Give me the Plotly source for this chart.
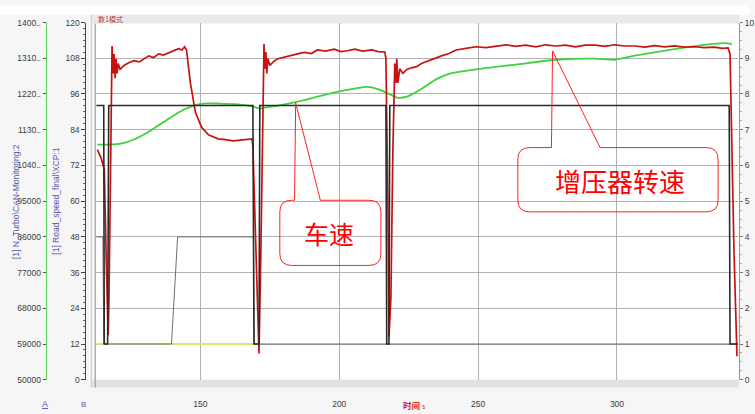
import plotly.graph_objects as go

W, H = 755, 414

# ---- data -------------------------------------------------------------
# turbocharger speed (axis A, rpm)
turbo_t = [112.9, 114.3, 115.0, 115.4, 116.1, 116.8, 117.1, 117.9, 118.2, 118.6, 118.9, 119.3,
           119.6, 120.0, 120.4, 121.1, 122.5, 124.0, 126.1, 128.0, 129.8, 131.4, 133.2, 135.0,
           136.7, 138.6, 140.2, 142.1, 143.4, 144.3, 145.0, 146.4, 148.2, 150.4, 152.9, 156.4,
           159.0, 161.8, 164.5, 167.1, 168.6, 168.9, 170.0, 171.1, 171.8, 172.5, 172.9, 173.2,
           173.6, 173.9, 174.3, 175.0, 176.5, 177.9, 180.0, 182.6, 185.0, 187.5, 190.0, 192.1,
           195.0, 198.2, 200.5, 202.9, 205.6, 208.4, 211.8, 214.0, 216.4, 216.8, 217.5, 217.9,
           218.6, 219.3, 220.0, 220.4, 220.7, 221.1, 221.8, 222.9, 224.3, 226.0, 227.9, 229.6,
           231.4, 234.0, 236.8, 239.5, 242.1, 245.6, 249.3, 252.8, 256.4, 260.0, 263.5, 267.1,
           270.8, 274.2, 277.9, 281.5, 285.0, 288.6, 292.1, 295.7, 299.2, 302.8, 306.4, 310.0,
           313.5, 317.1, 320.7, 324.3, 327.9, 331.4, 335.0, 338.0, 340.0, 340.7, 341.4, 342.1,
           343.2]
turbo_rpm = [108000, 105800, 103900, 103100, 80500, 61300, 70700, 114900, 134100, 127200, 132100, 126000,
             130900, 127200, 129700, 128200, 129200, 129800, 130400, 130100, 131000, 131600, 131200, 132100,
             131800, 132400, 132900, 133400, 133100, 133900, 133100, 124800, 117400, 113700, 111700, 110700,
             110500, 110200, 110400, 110500, 110700, 108800, 83000, 56600, 83000, 119800, 134600, 128400,
             132600, 127200, 130900, 129200, 130300, 130900, 131300, 131800, 132100, 132500, 132200, 133100,
             132800, 133300, 132700, 132900, 133300, 132800, 133100, 132700, 132600, 130900, 95200, 60800,
             70700, 107500, 129700, 124800, 130900, 124800, 128400, 127200, 128200, 128600, 128900, 129700,
             130200, 130800, 131600, 132200, 133100, 133500, 133900, 133700, 134100, 134400, 134000, 134300,
             133900, 134400, 134100, 134300, 133900, 134300, 134300, 134000, 134400, 134100, 134100, 133800,
             134200, 133900, 134100, 133800, 133900, 133700, 133800, 133500, 133600, 132100, 107500, 83000,
             55900]

# vehicle speed (axis B, km/h)
speed_t = [112.9, 117.1, 121.4, 126.1, 131.4, 136.8, 142.1, 147.5, 151.1, 156.4, 163.6, 168.9,
           171.4, 173.6, 177.9, 185.0, 192.1, 199.3, 206.4, 210.0, 213.6, 217.1, 220.7, 224.3,
           229.6, 235.0, 240.4, 249.3, 263.6, 277.9, 292.1, 299.3, 306.4, 320.7, 331.4, 338.6,
           341.4]
speed_kmh = [79.0, 79.0, 79.3, 80.7, 83.3, 86.6, 89.8, 92.1, 92.8, 92.8, 92.5, 91.8,
             91.1, 91.5, 92.1, 93.4, 95.1, 96.7, 98.0, 98.4, 97.7, 96.4, 94.8, 95.1,
             97.7, 101.0, 103.0, 104.3, 105.9, 107.5, 107.9, 107.5, 108.9, 111.1, 112.5, 113.1,
             112.8]

# right-hand axis signals (0..10)
step_t = [112.5, 115.2, 115.4, 116.6, 117.0, 168.9, 169.3, 171.1, 171.4, 216.8, 217.1, 217.9,
          218.2, 340.4, 340.7, 343.6]
step_v = [7.68, 7.68, 1, 1, 7.68, 7.68, 1, 1, 7.68, 7.68, 1, 1, 7.68, 7.68, 1, 1]

level_t = [112.5, 114.9, 115.2, 139.6, 141.8, 169.1, 169.4, 343.6]
level_v = [4, 4, 1, 1, 4, 4, 1, 1]

flag_t = [112.5, 169.6]
flag_v = [1, 1]

# axis ticks
time_ticks = [150, 200, 250, 300]
rpm_ticks = [50000, 59000, 68000, 77000, 86000, 95000, 104000, 113000, 122000, 131000, 140000]
rpm_labels = ["50000", "59000", "68000", "77000", "86000", "95000",
              "1040..", "1130..", "1220..", "1310..", "1400.."]

T_RANGE = [112.5, 343.6]


def px(x):
    return x / W


def py(y):
    return (H - y) / H


fig = go.Figure()

fig.add_trace(go.Scatter(x=flag_t, y=flag_v, yaxis="y4", mode="lines",
                         line=dict(color="#e2e27a", width=2.2)))
fig.add_trace(go.Scatter(x=level_t, y=level_v, yaxis="y4", mode="lines",
                         line=dict(color="#6e6e6e", width=1)))
fig.add_trace(go.Scatter(x=step_t, y=step_v, yaxis="y4", mode="lines",
                         line=dict(color="#2a2a2a", width=1.6)))
fig.add_trace(go.Scatter(x=speed_t, y=speed_kmh, yaxis="y2", mode="lines",
                         line=dict(color="#3fd23f", width=1.8, shape="spline", smoothing=0.6)))
fig.add_trace(go.Scatter(x=turbo_t, y=turbo_rpm, yaxis="y3", mode="lines",
                         line=dict(color="#c81212", width=1.7)))

tick_font = dict(family="Liberation Sans, Arial, sans-serif", size=8.5, color="#3c3c3c")

fig.update_layout(
    width=W, height=H,
    margin=dict(l=0, r=0, t=0, b=0),
    paper_bgcolor="#f6f6f7",
    plot_bgcolor="#ffffff",
    showlegend=False,
    xaxis=dict(domain=[px(97), px(744)], range=T_RANGE, anchor="y",
               tickvals=time_ticks, showticklabels=True, ticks="", ticklabelstandoff=18,
               tickfont=tick_font,
               showgrid=True, gridcolor="#b2b2b2", gridwidth=1.2,
               zeroline=False, showline=False),
    # red time ruler under the plot
    xaxis2=dict(overlaying="x", anchor="free", position=py(400), range=T_RANGE, side="bottom",
                tickvals=time_ticks, showticklabels=False, ticks="inside", ticklen=3,
                tickcolor="#8a8a8a",
                minor=dict(dtick=10, tick0=0, ticks="inside", ticklen=3, tickcolor="#9a9a9a"),
                showgrid=False, zeroline=False, showline=True, linecolor="#d23030", linewidth=1.2),
    yaxis=dict(domain=[py(384), py(18)], range=[0, 120], tick0=0, dtick=12, anchor="x",
               showticklabels=False, ticks="", showgrid=True, gridcolor="#b2b2b2",
               gridwidth=1.2, zeroline=False, showline=False),
    yaxis2=dict(overlaying="y", anchor="free", position=px(86), side="left",
                range=[0, 120], tick0=0, dtick=12, ticks="outside", ticklen=4,
                tickcolor="#444", minor=dict(dtick=2, ticks="outside", ticklen=2, tickcolor="#666"),
                showgrid=False, zeroline=False, showline=True, linecolor="#444", linewidth=1,
                tickfont=tick_font),
    yaxis3=dict(overlaying="y", anchor="free", position=px(46), side="left",
                range=[50000, 140000], tickvals=rpm_ticks, ticktext=rpm_labels,
                ticks="outside", ticklen=3, tickcolor="#555",
                showgrid=False, zeroline=False, showline=True, linecolor="#5fd85f", linewidth=1,
                tickfont=tick_font),
    yaxis4=dict(overlaying="y", anchor="free", position=px(745), side="right",
                range=[0, 10], tick0=0, dtick=1, ticks="outside", ticklen=3, tickcolor="#777",
                minor=dict(dtick=0.25, ticks="outside", ticklen=2, tickcolor="#aaa"),
                showgrid=False, zeroline=False, showline=True, linecolor="#9a9a9a", linewidth=1,
                tickfont=tick_font),
)

shapes = [
    # white strip along the top
    dict(type="rect", xref="paper", yref="paper", x0=0, x1=1, y0=py(10), y1=1,
         fillcolor="#ffffff", line=dict(width=0), layer="below"),
    # window header strip
    dict(type="rect", xref="paper", yref="paper", x0=px(93), x1=px(745), y0=py(19), y1=py(10),
         fillcolor="#e9e9ea", line=dict(width=0), layer="below"),
    # gray band under the plot
    dict(type="rect", xref="paper", yref="paper", x0=px(93), x1=px(745), y0=py(392), y1=py(384),
         fillcolor="#e2e2e3", line=dict(width=0), layer="below"),
    # window frame lines on the left
    dict(type="line", xref="paper", yref="paper", x0=px(92), x1=px(92), y0=py(392), y1=py(10),
         line=dict(color="#c8c8c8", width=1)),
    dict(type="line", xref="paper", yref="paper", x0=px(96), x1=px(96), y0=py(392), y1=py(19),
         line=dict(color="#a0a0a0", width=1.2)),
]


def callout(x0, x1, y0, y1, base_l, tip, base_r, rx, ry):
    return (f"M{x0 + rx},{y1} L{base_l},{y1} L{tip[0]},{tip[1]} L{base_r},{y1} "
            f"L{x1 - rx},{y1} Q{x1},{y1} {x1},{y1 - ry} L{x1},{y0 + ry} "
            f"Q{x1},{y0} {x1 - rx},{y0} L{x0 + rx},{y0} Q{x0},{y0} {x0},{y0 + ry} "
            f"L{x0},{y1 - ry} Q{x0},{y1} {x0 + rx},{y1} Z")


callout_line = dict(color="#ff2020", width=1)
shapes.append(dict(type="path", xref="x", yref="y", layer="above", line=callout_line,
                   path=callout(178.6, 215.0, 38.4, 60.3, 183.9, (184.3, 93.0), 193.2, 4.3, 3.9)))
shapes.append(dict(type="path", xref="x", yref="y", layer="above", line=callout_line,
                   path=callout(264.3, 336.4, 56.4, 78.0, 276.4, (276.8, 110.5), 293.9, 4.3, 3.9)))
fig.update_layout(shapes=shapes)

cjk = "Noto Sans CJK SC, sans-serif"
latin = "Liberation Sans, Arial, sans-serif"


def paper_text(x, y, text, font, angle=0):
    return dict(x=px(x), y=py(y), xref="paper", yref="paper", xanchor="center",
                yanchor="middle", text=text, showarrow=False, textangle=angle, font=font)


annotations = [
    dict(x=196.4, y=49.2, xref="x", yref="y", xanchor="center", yanchor="middle",
         text="车速", showarrow=False, font=dict(family=cjk, size=25, color="#ff0000")),
    dict(x=301.1, y=66.9, xref="x", yref="y", xanchor="center", yanchor="middle",
         text="增压器转速", showarrow=False, font=dict(family=cjk, size=26, color="#ff0000")),
    paper_text(111, 14.5, "数1模式", dict(family=cjk, size=7, color="#b83a3a")),
    paper_text(16, 201, "[1] N_Turbo\\CAN-Monitoring:2",
               dict(family=latin, size=8.5, color="#5757a6"), -90),
    paper_text(57, 201, "[1] Road_speed_final\\XCP:1",
               dict(family=latin, size=8.5, color="#5757a6"), -90),
    paper_text(45, 409, "<u>A</u>", dict(family=latin, size=9, color="#5757a6")),
    paper_text(84, 409, "B", dict(family=latin, size=8, color="#5757a6")),
    paper_text(418, 410, "<b>时间</b> <span style='font-size:7px'>s</span>",
               dict(family=cjk, size=8.5, color="#d42020")),
]
fig.update_layout(annotations=annotations)

fig.write_html("out.html")
